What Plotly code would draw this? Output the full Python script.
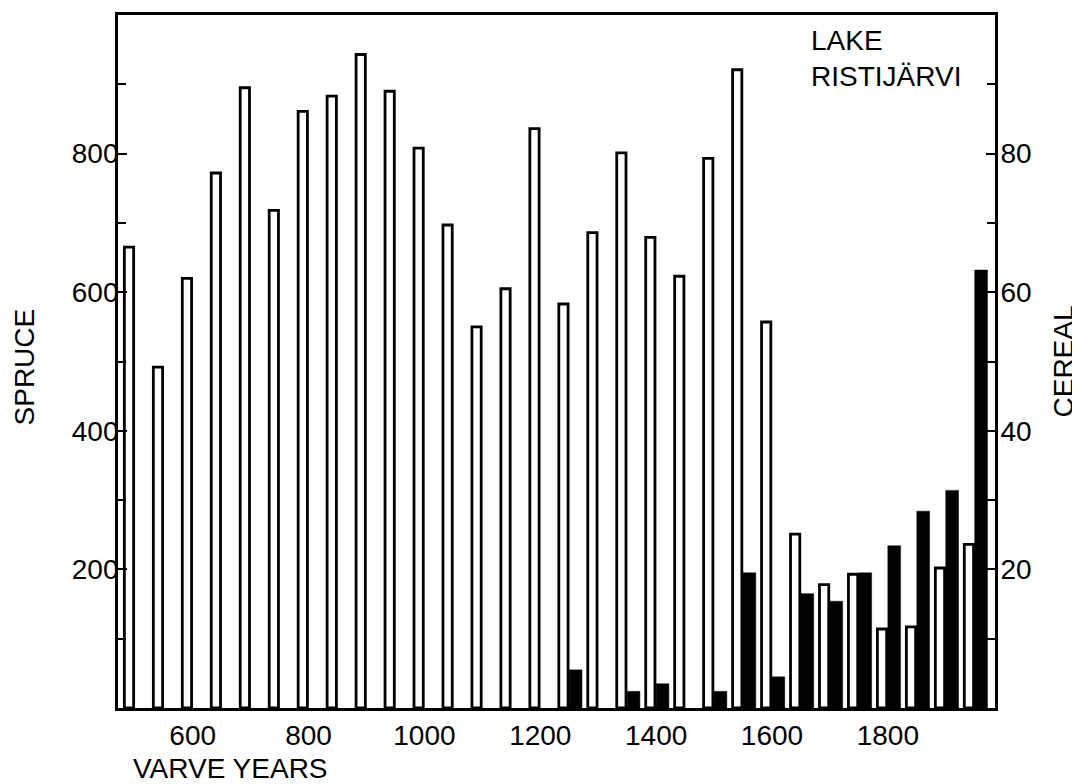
import plotly.graph_objects as go

years = list(range(500, 2000, 50))
spruce = [665, 492, 620, 772, 895, 718, 861, 883, 943, 890,
          808, 697, 550, 605, 836, 583, 686, 801, 679, 623,
          793, 921, 557, 251, 178, 193, 114, 117, 202, 236]
cereal = [None, None, None, None, None, None, None, None, None, None,
          None, None, None, None, None, 5.5, None, 2.4, 3.5, None,
          2.4, 19.5, 4.5, 16.5, 15.4, 19.5, 23.4, 28.4, 31.4, 63.2]

x_ticks = [600, 800, 1000, 1200, 1400, 1600, 1800]
spruce_ticks = [200, 400, 600, 800]
cereal_ticks = [20, 40, 60, 80]

FONT = "Liberation Sans, Arial, sans-serif"
FS = 28

fig = go.Figure()
fig.add_trace(go.Bar(
    x=years, y=spruce, offset=-18, width=16,
    marker=dict(color="white", line=dict(color="black", width=2.8)),
    yaxis="y", showlegend=False, hoverinfo="x+y",
))
fig.add_trace(go.Bar(
    x=years, y=cereal, offset=0, width=22,
    marker=dict(color="black", line=dict(color="black", width=0.5)),
    yaxis="y2", showlegend=False, hoverinfo="x+y",
))

fig.update_layout(
    width=1072, height=776,
    margin=dict(l=110, r=85, t=4, b=76),
    paper_bgcolor="white", plot_bgcolor="white",
    barmode="overlay",
    font=dict(family=FONT, size=FS, color="black"),
    xaxis=dict(
        range=[471, 1985], tickvals=x_ticks, ticks="",
        showline=True, linecolor="black", linewidth=2.8, mirror=True,
        showgrid=False, zeroline=False,
        tickfont=dict(family=FONT, size=FS, color="black"),
    ),
    yaxis=dict(
        range=[0, 1000], tickvals=spruce_ticks, ticks="inside", ticklen=9,
        tickwidth=2, tickcolor="black",
        minor=dict(dtick=100, tick0=0, ticks="inside", ticklen=8,
                   tickwidth=2, tickcolor="black"),
        showline=True, linecolor="black", linewidth=2.8,
        showgrid=False, zeroline=False, ticklabelstandoff=-9,
        tickfont=dict(family=FONT, size=FS, color="black"),
    ),
    yaxis2=dict(
        range=[0, 100], tickvals=cereal_ticks, ticks="inside", ticklen=9,
        tickwidth=2, tickcolor="black", overlaying="y", side="right",
        minor=dict(dtick=10, tick0=0, ticks="inside", ticklen=8,
                   tickwidth=2, tickcolor="black"),
        showline=True, linecolor="black", linewidth=2.8,
        showgrid=False, zeroline=False, ticklabelstandoff=-3,
        tickfont=dict(family=FONT, size=FS, color="black"),
    ),
    annotations=[
        dict(text="SPRUCE", xref="paper", yref="paper",
             x=(24 - 118) / 877, y=(708 - 366) / 696, textangle=-90,
             showarrow=False, xanchor="center", yanchor="middle",
             font=dict(family=FONT, size=FS, color="black")),
        dict(text="CEREAL", xref="paper", yref="paper",
             x=(1063 - 118) / 877, y=(708 - 360) / 696, textangle=-90,
             showarrow=False, xanchor="center", yanchor="middle",
             font=dict(family=FONT, size=FS, color="black")),
        dict(text="VARVE YEARS", xref="paper", yref="paper",
             x=(131 - 118) / 877, y=(708 - 769) / 696,
             showarrow=False, xanchor="left", yanchor="middle",
             font=dict(family=FONT, size=FS, color="black")),
        dict(text="LAKE<br>RISTIJÄRVI", xref="paper", yref="paper",
             x=(809 - 118) / 877, y=(708 - 20) / 696, align="left",
             showarrow=False, xanchor="left", yanchor="top",
             font=dict(family=FONT, size=FS, color="black")),
    ],
)

fig.write_html("out.html")
